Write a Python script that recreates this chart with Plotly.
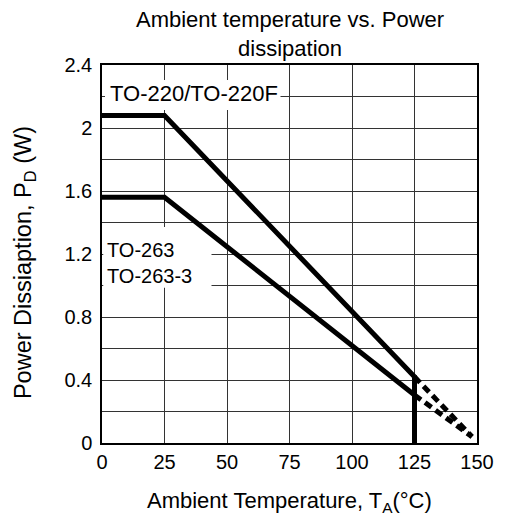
import plotly.graph_objects as go

# Data
temp_220 = [0, 25, 125]
pd_220 = [2.08, 2.08, 0.42]
temp_263 = [0, 25, 125]
pd_263 = [1.56, 1.56, 0.305]
derate_x_220 = [125, 148]
derate_y_220 = [0.42, 0.04]
derate_x_263 = [125, 148]
derate_y_263 = [0.305, 0.04]
tj_x = [125, 125]
tj_y = [0.0, 0.43]
x_ticks = [0, 25, 50, 75, 100, 125, 150]
y_ticks = [0, 0.4, 0.8, 1.2, 1.6, 2, 2.4]
y_tick_text = ["0", "0.4", "0.8", "1.2", "1.6", "2", "2.4"]

FONT = "Liberation Sans, Arial, sans-serif"
FS = 20
fig = go.Figure()
solid = dict(color="black", width=5)
dashed = dict(color="black", width=5, dash="8px,5px")
fig.add_trace(go.Scatter(x=temp_220, y=pd_220, mode="lines", line=solid))
fig.add_trace(go.Scatter(x=temp_263, y=pd_263, mode="lines", line=solid))
fig.add_trace(go.Scatter(x=derate_x_220, y=derate_y_220, mode="lines", line=dashed))
fig.add_trace(go.Scatter(x=derate_x_263, y=derate_y_263, mode="lines", line=dashed))
fig.add_trace(go.Scatter(x=tj_x, y=tj_y, mode="lines", line=solid))

# white label backgrounds: above gridlines, below traces
fig.add_shape(type="rect", xref="x", yref="y", x0=1.2, x1=71.4, y0=2.114, y1=2.305,
              fillcolor="white", line=dict(width=0), layer="between")
fig.add_shape(type="rect", xref="x", yref="y", x0=0.5, x1=43.8, y0=0.985, y1=1.371,
              fillcolor="white", line=dict(width=0), layer="between")

fig.add_annotation(x=1.4, y=2.222, xref="x", yref="y", text="TO-220/TO-220F",
                   showarrow=False, xanchor="left", yanchor="middle", borderpad=3,
                   font=dict(size=22, color="black", family=FONT))
fig.add_annotation(x=0.6, y=1.143, xref="x", yref="y", text="TO-263<br>TO-263-3",
                   showarrow=False, xanchor="left", yanchor="middle", align="left",
                   borderpad=2,
                   font=dict(size=FS, color="black", family=FONT))

# Title and axis titles as paper annotations
fig.add_annotation(x=0.5, y=1.082, xref="paper", yref="paper",
                   text="Ambient temperature vs. Power<br>dissipation",
                   showarrow=False, xanchor="center", yanchor="middle",
                   font=dict(size=22, color="black", family=FONT))
fig.add_annotation(x=0.5, y=-0.156, xref="paper", yref="paper",
                   text="Ambient Temperature, T<sub>A</sub>(°C)",
                   showarrow=False, xanchor="center", yanchor="middle",
                   font=dict(size=22, color="black", family=FONT))
fig.add_annotation(x=-0.208, y=0.476, xref="paper", yref="paper",
                   text="Power Dissiaption, P<sub>D</sub> (W)", textangle=-90,
                   showarrow=False, xanchor="center", yanchor="middle",
                   font=dict(size=23.5, color="black", family=FONT))

fig.update_layout(
    width=506, height=518,
    margin=dict(l=102, r=24, t=65, b=75),
    paper_bgcolor="white", plot_bgcolor="white",
    showlegend=False,
    font=dict(family=FONT, size=FS, color="black"),
    xaxis=dict(range=[0, 150], tickvals=x_ticks, showgrid=True,
               gridcolor="#333", gridwidth=1,
               showline=True, linecolor="black", linewidth=1.5, mirror=True,
               zeroline=False, ticks="", tickfont=dict(size=FS)),
    yaxis=dict(range=[0, 2.4], tickvals=y_ticks, ticktext=y_tick_text,
               showgrid=True, gridcolor="#333", gridwidth=1,
               minor=dict(dtick=0.2, tick0=0, showgrid=True, gridcolor="#333", gridwidth=1),
               showline=True, linecolor="black", linewidth=1.5, mirror=True,
               zeroline=False, ticks="", tickfont=dict(size=FS),
               ticklabelstandoff=4),
)
fig.write_html("out.html", config={"displayModeBar": False},
               post_script="document.body.style.margin='0';document.body.style.overflow='hidden';")
